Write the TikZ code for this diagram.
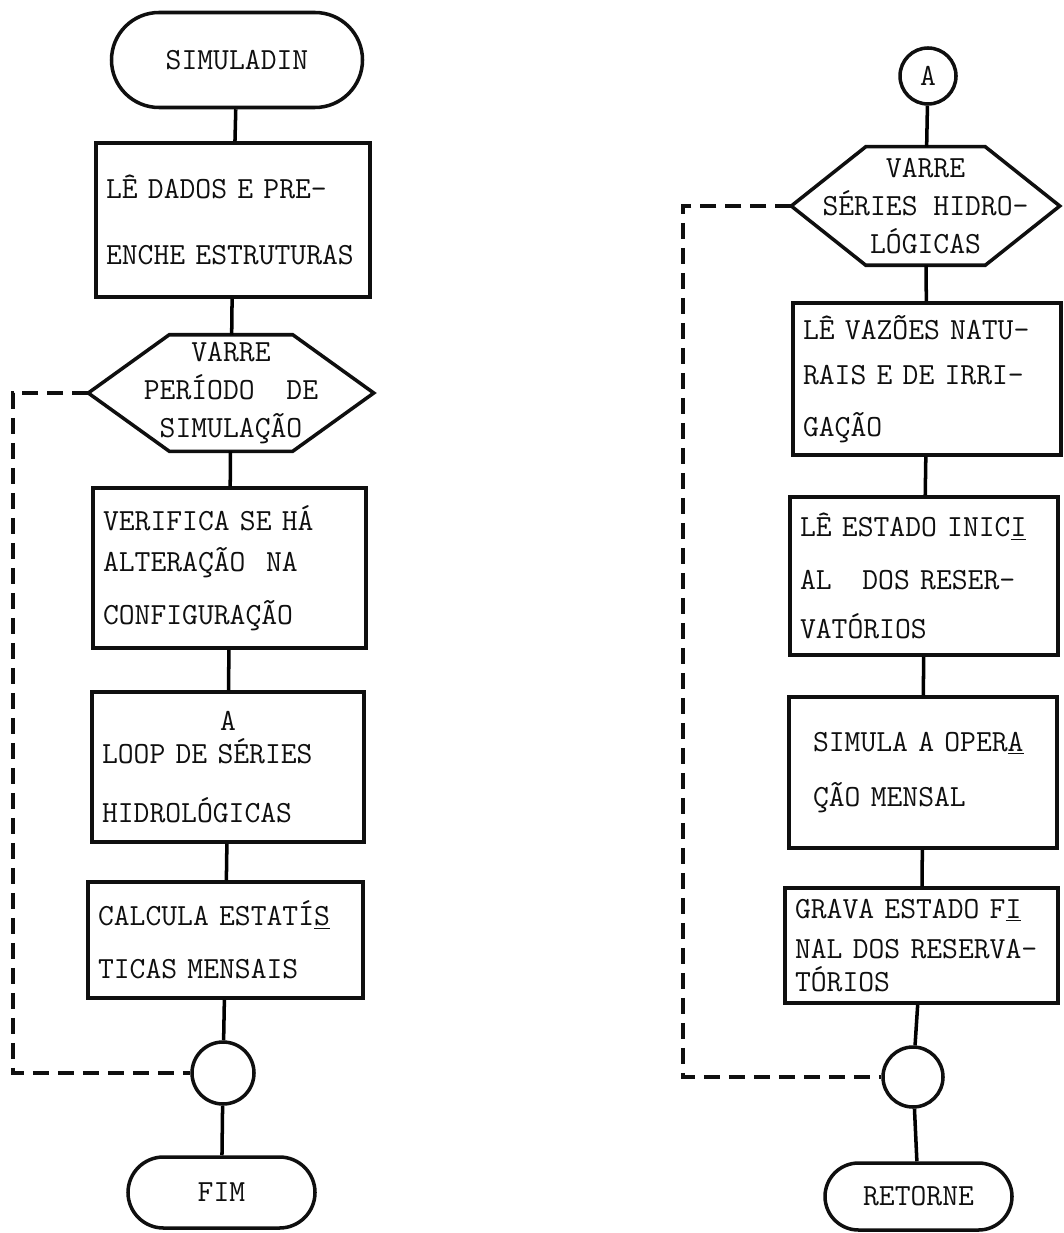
\documentclass[tikz,border=0pt]{standalone}
\usepackage{fontspec}
\usetikzlibrary{shapes.misc}
\definecolor{tinta}{RGB}{15,15,15}
\newcommand{\letra}{\fontsize{17.5}{21.5}\selectfont\ttfamily}
% hexagono de decisao desenhado sobre o retangulo do no: nome, chanfro
\newcommand{\hexagono}[2]{%
	\draw[draw=tinta, line join=miter]
		(#1.west) -- ([xshift=#2]#1.north west) -- ([xshift=-#2]#1.north east)
		-- (#1.east) -- ([xshift=-#2]#1.south east) -- ([xshift=#2]#1.south west) -- cycle;}

\begin{document}
\begin{tikzpicture}[line width=2pt, font=\letra, text=tinta,
		terminal/.style={draw=tinta, rounded rectangle, inner sep=0pt},
		caixa/.style={draw=tinta, rectangle, align=left, inner xsep=0.2cm, text width=#1},
		decisao/.style={rectangle, align=center, inner sep=0pt},
		juncao/.style={draw=tinta, circle, inner sep=0pt, minimum size=#1},
		tracejado/.style={draw=tinta, dash pattern=on 0.32cm off 0.18cm}]
	\useasboundingbox (0,0) rectangle (21.26,-24.66);
	% coluna da esquerda
	\node[terminal, minimum width=5.02cm, minimum height=1.9cm] (inicio) at (4.74,-1.20) {SIMULADIN};
	\node[caixa=5.08cm, minimum height=3.08cm] (leitura) at (4.66,-4.40)
		{LÊ DADOS E PRE-\\[0.56cm]\mbox{ENCHE ESTRUTURAS}};
	\node[decisao, minimum width=5.64cm, minimum height=2.26cm] (hex1) at (4.62,-7.86)
		{VARRE\\PERÍODO\ \ DE\\SIMULAÇÃO};
	\hexagono{hex1}{1.62cm}
	\node[caixa=5.06cm, minimum height=3.2cm] (verifica) at (4.59,-11.36)
		{VERIFICA SE HÁ\\[0.06cm]ALTERAÇÃO\ \ NA\\[0.3cm]CONFIGURAÇÃO};
	\node[caixa=5.04cm, minimum height=3.0cm] (laco) at (4.56,-15.34)
		{\makebox[\linewidth]{A}\\[-0.1cm]LOOP DE SÉRIES\\[0.42cm]HIDROLÓGICAS};
	\node[caixa=5.10cm, minimum height=2.32cm] (calcula) at (4.51,-18.80)
		{CALCULA ESTATÍ\underline{S}\\[0.3cm]TICAS MENSAIS};
	\node[juncao=1.24cm] (junta1) at (4.46,-21.46) {};
	\node[terminal, minimum width=3.74cm, minimum height=1.42cm] (fim) at (4.43,-23.85) {FIM};
	\draw (inicio) -- (leitura);
	\draw (leitura) -- (hex1);
	\draw (hex1) -- (verifica);
	\draw (verifica) -- (laco);
	\draw (laco) -- (calcula);
	\draw (calcula) -- (junta1);
	\draw (junta1) -- (fim);
	\coordinate (canto1) at (0.26,-7.86);
	\draw[tracejado] (hex1.west) -- (canto1) |- (junta1.west);
	% coluna da direita
	\node[juncao=1.12cm] (conA) at (18.56,-1.52) {A};
	\node[decisao, minimum width=5.30cm, minimum height=2.30cm] (hex2) at (18.51,-4.12)
		{VARRE\\SÉRIES HIDRO-\\LÓGICAS};
	\hexagono{hex2}{1.49cm}
	\node[caixa=4.96cm, minimum height=3.04cm] (vazoes) at (18.54,-7.58)
		{LÊ VAZÕES NATU-\\[0.16cm]RAIS E DE IRRI-\\[0.28cm]GAÇÃO};
	\node[caixa=4.96cm, minimum height=3.16cm] (estado) at (18.48,-11.52)
		{LÊ ESTADO INIC\underline{I}\\[0.3cm]AL\ \ \ DOS RESER-\\[0.22cm]VATÓRIOS};
	\node[caixa=4.96cm, minimum height=3.02cm] (simula) at (18.46,-15.45)
		{\hspace*{0.28cm}SIMULA A OPER\underline{A}\\[0.36cm]\hspace*{0.28cm}ÇÃO MENSAL};
	\node[caixa=5.06cm, minimum height=2.30cm] (grava) at (18.43,-18.91)
		{GRAVA ESTADO F\underline{I}\\[0.06cm]\mbox{NAL DOS RESERVA-}\\[-0.1cm]TÓRIOS};
	\node[juncao=1.2cm] (junta2) at (18.26,-21.54) {};
	\node[terminal, minimum width=3.74cm, minimum height=1.34cm] (retorne) at (18.37,-23.93) {RETORNE};
	\draw (conA) -- (hex2);
	\draw (hex2) -- (vazoes);
	\draw (vazoes) -- (estado);
	\draw (estado) -- (simula);
	\draw (simula) -- (grava);
	\draw (grava) -- (junta2);
	\draw (junta2) -- (retorne);
	\coordinate (canto2) at (13.66,-4.12);
	\draw[tracejado] (hex2.west) -- (canto2) |- (junta2.west);
\end{tikzpicture}
\end{document}
